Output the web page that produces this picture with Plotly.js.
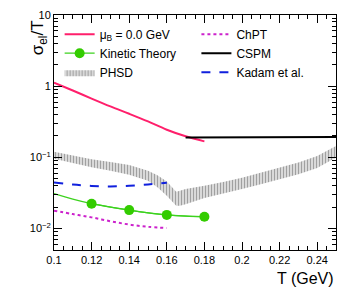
<!DOCTYPE html>
<html><head><meta charset="utf-8">
<script src="https://cdn.plot.ly/plotly-3.0.1.min.js"></script>
<style>html,body{margin:0;padding:0;background:#fff}#chart{width:347px;height:301px}</style>
</head><body><div id="chart"></div>
<script>
// Data
const muT = [0.10, 0.11, 0.12, 0.13, 0.14, 0.15, 0.16, 0.17, 0.18];
const muVal = [1.12, 0.87, 0.67, 0.52, 0.41, 0.32, 0.245, 0.198, 0.168];

const ktLineT = [0.10, 0.11, 0.12, 0.13, 0.14, 0.15, 0.16, 0.17, 0.18];
const ktLineVal = [0.031, 0.026, 0.0224, 0.0200, 0.0182, 0.0167, 0.0156, 0.0150, 0.0147];
const ktPtT = [0.12, 0.14, 0.16, 0.18];
const ktPtVal = [0.0224, 0.0182, 0.0156, 0.0147];

const phsdT = [0.10, 0.11, 0.12, 0.13, 0.14, 0.15, 0.155, 0.16, 0.165, 0.167, 0.17, 0.18, 0.19, 0.20, 0.21, 0.22, 0.23, 0.24, 0.25];
const phsdHi = [0.120, 0.105, 0.094, 0.086, 0.078, 0.065, 0.056, 0.046, 0.033, 0.034, 0.036, 0.040, 0.045, 0.052, 0.061, 0.071, 0.085, 0.105, 0.145];
const phsdLo = [0.096, 0.083, 0.073, 0.065, 0.057, 0.047, 0.038, 0.029, 0.021, 0.021, 0.022, 0.027, 0.031, 0.036, 0.042, 0.049, 0.058, 0.071, 0.100];

const chptT = [0.10, 0.11, 0.12, 0.13, 0.14, 0.15, 0.16];
const chptVal = [0.0179, 0.0160, 0.0144, 0.0127, 0.0114, 0.0106, 0.0102];

const cspmT = [0.17, 0.25];
const cspmVal = [0.19, 0.193];

const kadamT = [0.10, 0.11, 0.12, 0.13, 0.14, 0.15, 0.16];
const kadamVal = [0.0445, 0.0415, 0.0398, 0.0392, 0.0400, 0.0418, 0.0442];

const yTickVals = [0.01, 0.1, 1, 10];
const yTickText = ['10<sup>\u22122</sup>', '10<sup>\u22121</sup>', '1', '10'];

const minorY = [];
for (let e = -3; e <= 1; e++) for (let m = 2; m <= 9; m++) minorY.push(m * Math.pow(10, e));

const font = 'Liberation Sans, Arial, Helvetica, sans-serif';

const traces = [
  {x: phsdT, y: phsdLo, mode: 'lines', line: {width: 0, color: 'rgba(0,0,0,0)'}, showlegend: false, hoverinfo: 'skip'},
  {x: phsdT, y: phsdHi, mode: 'lines', name: 'PHSD', fill: 'tonexty', fillcolor: 'rgba(0,0,0,0)',
   fillpattern: {shape: '|', fgcolor: '#a0a0a0', bgcolor: 'rgba(255,255,255,0)', size: 3, solidity: 0.6},
   line: {width: 0, color: 'rgba(0,0,0,0)'}, legend: 'legend', legendrank: 3},
  {x: muT, y: muVal, mode: 'lines', name: '\u03bc<sub>B</sub> = 0.0 GeV', line: {color: '#ff1f6b', width: 2, shape: 'spline'}, legend: 'legend', legendrank: 1},
  {x: ktLineT, y: ktLineVal, mode: 'lines', line: {color: '#3cd21e', width: 1.3, shape: 'spline'}, showlegend: false},
  {x: ktPtT, y: ktPtVal, mode: 'lines+markers', name: 'Kinetic Theory', line: {color: '#3cd21e', width: 1.3, shape: 'spline'},
   marker: {color: '#33cc00', size: 10}, legend: 'legend', legendrank: 2},
  {x: chptT, y: chptVal, mode: 'lines', name: 'ChPT', line: {color: '#cc22cc', width: 2, dash: 'dot', shape: 'spline'}, legend: 'legend2'},
  {x: cspmT, y: cspmVal, mode: 'lines', name: 'CSPM', line: {color: '#000000', width: 2}, legend: 'legend2'},
  {x: kadamT, y: kadamVal, mode: 'lines', name: 'Kadam et al.', line: {color: '#1020dd', width: 2, dash: 'dash', shape: 'spline'}, legend: 'legend2'}
];

const layout = {
  width: 347, height: 301,
  margin: {l: 54, r: 11, t: 15, b: 51},
  paper_bgcolor: '#fff', plot_bgcolor: '#fff',
  font: {family: font, size: 12, color: '#000'},
  showlegend: true,
  xaxis: {
    range: [0.1, 0.25], dtick: 0.02, tick0: 0.1, tickformat: '.2~f',
    ticks: 'inside', ticklen: 8, tickcolor: '#000', showgrid: false, zeroline: false,
    showline: true, linecolor: '#000', linewidth: 1, mirror: 'ticks',
    tickfont: {size: 11, family: font},
    minor: {dtick: 0.005, tick0: 0.1, ticks: 'inside', ticklen: 4, tickcolor: '#000', showgrid: false}
  },
  yaxis: {
    type: 'log', range: [-2.3, 1],
    tickvals: yTickVals, ticktext: yTickText,
    ticks: 'inside', ticklen: 8, tickcolor: '#000', showgrid: false, zeroline: false,
    showline: true, linecolor: '#000', linewidth: 1, mirror: 'ticks',
    tickfont: {size: 11, family: font},
    minor: {tickvals: minorY, ticks: 'inside', ticklen: 4, tickcolor: '#000', showgrid: false}
  },
  legend: {x: 0.02, y: 0.98, xanchor: 'left', yanchor: 'top', bgcolor: 'rgba(0,0,0,0)',
           font: {size: 12, family: font}, traceorder: 'normal', tracegroupgap: 0},
  legend2: {x: 0.505, y: 0.98, xanchor: 'left', yanchor: 'top', bgcolor: 'rgba(0,0,0,0)',
           font: {size: 12, family: font}, traceorder: 'normal', tracegroupgap: 0},
  annotations: [
    {xref: 'paper', yref: 'paper', x: -0.052, y: 0.985, xanchor: 'center', yanchor: 'top',
     text: '\u03c3<sub>el</sub>/T', textangle: -90, showarrow: false, font: {size: 17, family: font}},
    {xref: 'paper', yref: 'paper', x: 1.0, y: -0.076, xanchor: 'right', yanchor: 'top',
     text: 'T (GeV)', showarrow: false, font: {size: 16, family: font}}
  ]
};

Plotly.newPlot('chart', traces, layout, {displayModeBar: false, staticPlot: true});
</script></body></html>
